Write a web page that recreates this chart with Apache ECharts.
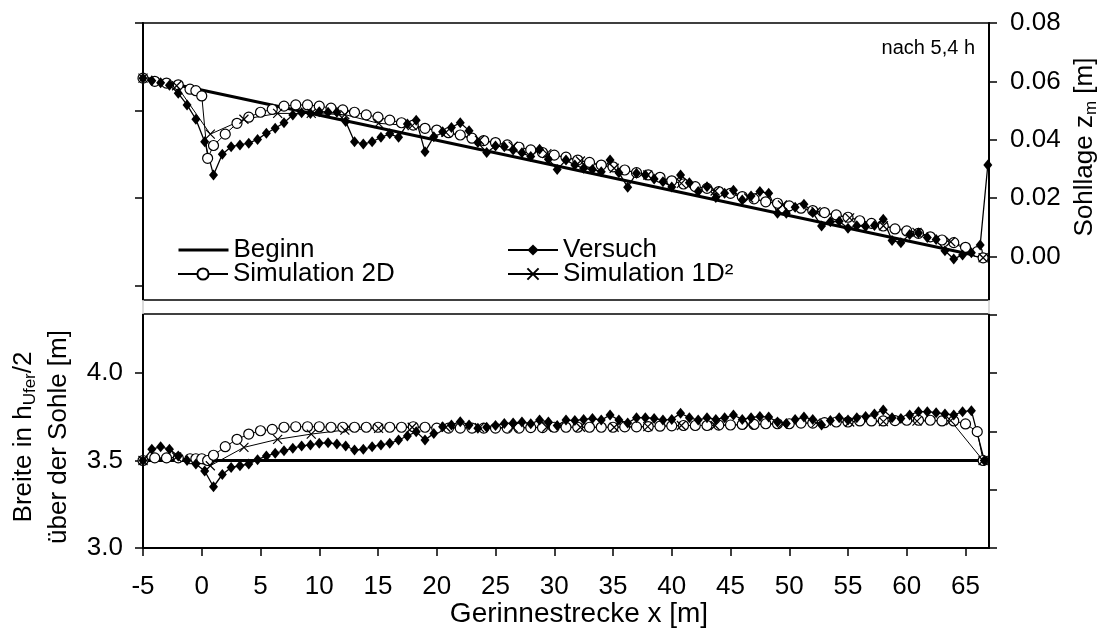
<!DOCTYPE html>
<html>
<head>
<meta charset="utf-8">
<script src="https://cdn.jsdelivr.net/npm/echarts@6/dist/echarts.min.js"></script>
<style>
  html, body { margin: 0; padding: 0; background: #fff; }
  #chart { width: 1102px; height: 639px; }
</style>
</head>
<body>
<div id="chart"></div>
<script>
// ---- Sohllage (bed level z_m, right axis) and Breite (width, left axis) along the flume ----

// Initial state
const xBeginnTop = [-5, 66.5];
const zBeginn    = [0.0613, -0.0002];
const xBeginnBot = [-5, 66.6];
const bBeginn    = [3.5, 3.5];

// Measurement (Versuch), bed level
const xVersuchTop = [-5, -4.25, -3.5, -2.75, -2, -1.25, -0.5, 0.25, 1, 1.75, 2.5, 3.25, 4, 4.75, 5.5, 6.25,
  7, 7.75, 8.5, 9.25, 10, 10.75, 11.5, 12.25, 13, 13.75, 14.5, 15.25, 16, 16.75, 17.5, 18.25, 19, 19.75,
  20.5, 21.25, 22, 22.75, 23.5, 24.25, 25, 25.75, 26.5, 27.25, 28, 28.75, 29.5, 30.25, 31, 31.75, 32.5,
  33.25, 34, 34.75, 35.5, 36.25, 37, 37.75, 38.5, 39.25, 40, 40.75, 41.5, 42.25, 43, 43.75, 44.5, 45.25,
  46, 46.75, 47.5, 48.25, 49, 49.75, 50.5, 51.25, 52, 52.75, 53.5, 54.25, 55, 55.75, 56.5, 57.25, 58,
  58.75, 59.5, 60.25, 61, 61.75, 62.5, 63.25, 64, 64.75, 65.5, 66.25, 66.9];
const zVersuch = [0.0611, 0.0602, 0.0595, 0.0587, 0.0559, 0.0519, 0.0470, 0.0393, 0.0279, 0.0350, 0.0376,
  0.0382, 0.0388, 0.0401, 0.0422, 0.0439, 0.0458, 0.0485, 0.0492, 0.0490, 0.0496, 0.0494, 0.0494, 0.0462,
  0.0393, 0.0385, 0.0393, 0.0408, 0.0420, 0.0408, 0.0454, 0.0467, 0.0359, 0.0410, 0.0427, 0.0442, 0.0458,
  0.0431, 0.0390, 0.0356, 0.0378, 0.0376, 0.0365, 0.0355, 0.0342, 0.0367, 0.0333, 0.0298, 0.0330, 0.0313,
  0.0302, 0.0298, 0.0290, 0.0330, 0.0287, 0.0237, 0.0285, 0.0279, 0.0265, 0.0256, 0.0238, 0.0279, 0.0252,
  0.0222, 0.0239, 0.0202, 0.0216, 0.0227, 0.0193, 0.0207, 0.0222, 0.0216, 0.0148, 0.0148, 0.0168, 0.0179,
  0.0150, 0.0104, 0.0119, 0.0120, 0.0096, 0.0105, 0.0102, 0.0106, 0.0127, 0.0054, 0.0047, 0.0075, 0.0080,
  0.0065, 0.0058, 0.0019, -0.0009, 0.0005, 0.0012, 0.0039, 0.0313];

// Measurement (Versuch), width
const xVersuchBot = [-5, -4.25, -3.5, -2.75, -2, -1.25, -0.5, 0.25, 1, 1.75, 2.5, 3.25, 4, 4.75, 5.5, 6.25,
  7, 7.75, 8.5, 9.25, 10, 10.75, 11.5, 12.25, 13, 13.75, 14.5, 15.25, 16, 16.75, 17.5, 18.25, 19, 19.75,
  20.5, 21.25, 22, 22.75, 23.5, 24.25, 25, 25.75, 26.5, 27.25, 28, 28.75, 29.5, 30.25, 31, 31.75, 32.5,
  33.25, 34, 34.75, 35.5, 36.25, 37, 37.75, 38.5, 39.25, 40, 40.75, 41.5, 42.25, 43, 43.75, 44.5, 45.25,
  46, 46.75, 47.5, 48.25, 49, 49.75, 50.5, 51.25, 52, 52.75, 53.5, 54.25, 55, 55.75, 56.5, 57.25, 58,
  58.75, 59.5, 60.25, 61, 61.75, 62.5, 63.25, 64, 64.75, 65.5, 66.6];
const bVersuch = [3.50, 3.564, 3.579, 3.564, 3.526, 3.50, 3.48, 3.44, 3.35, 3.42, 3.46, 3.47, 3.48, 3.505,
  3.526, 3.541, 3.556, 3.570, 3.583, 3.589, 3.598, 3.602, 3.594, 3.583, 3.560, 3.564, 3.579, 3.589, 3.598,
  3.617, 3.640, 3.665, 3.617, 3.655, 3.693, 3.703, 3.722, 3.703, 3.684, 3.690, 3.700, 3.712, 3.714, 3.720,
  3.710, 3.731, 3.720, 3.700, 3.731, 3.728, 3.735, 3.740, 3.731, 3.760, 3.731, 3.714, 3.745, 3.745, 3.740,
  3.731, 3.735, 3.770, 3.745, 3.731, 3.745, 3.735, 3.745, 3.760, 3.735, 3.745, 3.752, 3.748, 3.720, 3.712,
  3.735, 3.748, 3.735, 3.703, 3.728, 3.745, 3.731, 3.745, 3.752, 3.766, 3.789, 3.745, 3.740, 3.760, 3.779,
  3.779, 3.773, 3.766, 3.760, 3.779, 3.785, 3.50];

// Simulation 2D
const x2D = [-5, -4, -3, -2, -1, -0.5, 0, 0.5, 1, 2, 3, 4, 5, 6, 7, 8, 9, 10, 11, 12, 13, 14, 15, 16, 17,
  18, 19, 20, 21, 22, 23, 24, 25, 26, 27, 28, 29, 30, 31, 32, 33, 34, 35, 36, 37, 38, 39, 40, 41, 42, 43,
  44, 45, 46, 47, 48, 49, 50, 51, 52, 53, 54, 55, 56, 57, 58, 59, 60, 61, 62, 63, 64, 65, 66, 66.5];
const z2D = [0.0611, 0.0600, 0.0594, 0.0588, 0.0573, 0.0568, 0.0550, 0.0336, 0.0380,
  0.0419, 0.0456, 0.0477, 0.0494, 0.0504, 0.0515, 0.0519, 0.0519, 0.0515,
  0.0508, 0.0502, 0.0494, 0.0485, 0.0477, 0.0467, 0.0458, 0.0450, 0.0439, 0.0433,
  0.0424, 0.0416, 0.0405, 0.0397, 0.0390, 0.0382, 0.0374, 0.0365, 0.0356, 0.0347,
  0.0340, 0.0330, 0.0322, 0.0313, 0.0307, 0.0296, 0.0287, 0.0279, 0.0271, 0.0259,
  0.0248, 0.0239, 0.0233, 0.0222, 0.0216, 0.0205, 0.0197, 0.0187, 0.0182, 0.0173,
  0.0165, 0.0157, 0.0150, 0.0142, 0.0134, 0.0122, 0.0113, 0.0104, 0.0094, 0.0087,
  0.0079, 0.0067, 0.0056, 0.0047, 0.0031, 0.0016, -0.0005];
const b2D = [3.50, 3.515, 3.515, 3.515, 3.51, 3.51, 3.51, 3.50, 3.53,
  3.579, 3.621, 3.651, 3.670, 3.678, 3.690, 3.693, 3.693, 3.693,
  3.690, 3.690, 3.690, 3.690, 3.690, 3.690, 3.690, 3.693, 3.690, 3.685,
  3.685, 3.685, 3.685, 3.685, 3.685, 3.685, 3.685, 3.688, 3.688, 3.690,
  3.690, 3.690, 3.690, 3.690, 3.690, 3.692, 3.692, 3.694, 3.696, 3.698,
  3.700, 3.700, 3.700, 3.702, 3.703, 3.706, 3.706, 3.710, 3.710, 3.710,
  3.714, 3.714, 3.716, 3.720, 3.720, 3.726, 3.726, 3.726, 3.728, 3.730,
  3.730, 3.730, 3.726, 3.726, 3.709, 3.665, 3.50];

// Simulation 1D²
const x1D = [-5, -2.14, 0.73, 3.59, 6.46, 9.32, 12.18, 15.05, 17.91, 20.78, 23.64, 26.5, 29.37, 32.23,
  35.1, 37.96, 40.82, 43.69, 46.55, 49.42, 52.28, 55.14, 58.01, 60.87, 63.74, 66.5];
const z1D = [0.0611, 0.0585, 0.0419, 0.0470, 0.0490, 0.0490, 0.0486, 0.0456, 0.0448, 0.0425, 0.0398,
  0.0378, 0.0352, 0.0327, 0.0302, 0.0279, 0.0250, 0.0224, 0.0200, 0.0176, 0.0153, 0.0132, 0.0105,
  0.0082, 0.0050, -0.0005];
const b1D = [3.50, 3.52, 3.47, 3.575, 3.621, 3.651, 3.674, 3.684, 3.690, 3.690, 3.688, 3.688, 3.690,
  3.690, 3.690, 3.694, 3.700, 3.700, 3.705, 3.710, 3.715, 3.720, 3.722, 3.725, 3.728, 3.50];

const FONT = '"Liberation Sans", Arial, sans-serif';
const FS = 26;
const zip = (xs, ys) => xs.map((x, i) => [x, ys[i]]);

const styles = {
  'Beginn': { symbol: 'none', lineStyle: { color: '#000', width: 3 } },
  'Versuch': { symbol: 'diamond', symbolSize: [9, 11], itemStyle: { color: '#000' },
               lineStyle: { color: '#000', width: 1.3 } },
  'Simulation 2D': { symbol: 'circle', symbolSize: 10,
               itemStyle: { color: '#fff', borderColor: '#000', borderWidth: 1.2 },
               lineStyle: { color: '#000', width: 1 } },
  'Simulation 1D²': { symbol: 'path://M0,0L10,10M10,0L0,10', symbolSize: 9,
               itemStyle: { color: 'none', borderColor: '#000', borderWidth: 1.2 },
               lineStyle: { color: '#000', width: 1 } }
};

function line(name, xs, ys, yAxisIndex) {
  return Object.assign({
    type: 'line', name, yAxisIndex, data: zip(xs, ys),
    showSymbol: true, showAllSymbol: true, animation: false, silent: true,
    emphasis: { disabled: true }
  }, styles[name]);
}

const axisCommon = {
  axisLine: { show: true, onZero: false, lineStyle: { color: '#000', width: 2 } },
  axisTick: { show: true, length: 8, lineStyle: { color: '#000', width: 1.5 } },
  splitLine: { show: false },
  axisLabel: { color: '#000', fontSize: FS, fontFamily: FONT }
};

// one legend block per entry, laid out as two columns of two rows
function legendItem(item, left, centerY) {
  return {
    data: [item], orient: 'vertical', left, top: centerY - FS / 2,
    itemWidth: 50, itemHeight: 14, selectedMode: false, padding: 0,
    textStyle: { color: '#000', fontSize: FS, fontFamily: FONT }
  };
}

const option = {
  backgroundColor: '#fff',
  animation: false,
  grid: { left: 143, top: 23, width: 846, height: 525, show: true,
          borderColor: '#000', borderWidth: 1.5, backgroundColor: 'transparent' },
  xAxis: Object.assign({}, axisCommon, {
    type: 'value', min: -5, max: 67, interval: 5,
    axisLabel: Object.assign({}, axisCommon.axisLabel, { margin: 26, showMaxLabel: false })
  }),
  yAxis: [
    Object.assign({}, axisCommon, {
      type: 'value', position: 'left', min: 3, max: 6, interval: 0.5,
      axisLabel: Object.assign({}, axisCommon.axisLabel, {
        margin: 20, formatter: v => (v <= 4.0001 ? v.toFixed(1) : '')
      })
    }),
    Object.assign({}, axisCommon, {
      type: 'value', position: 'right', min: -0.1, max: 0.08, interval: 0.02,
      axisLabel: Object.assign({}, axisCommon.axisLabel, {
        margin: 21, formatter: v => (v > -0.0001 ? Math.abs(v).toFixed(2) : '')
      })
    })
  ],
  legend: [
    legendItem({ name: 'Beginn', itemStyle: { color: 'rgba(0,0,0,0)', borderWidth: 0 },
                 lineStyle: { color: '#000', width: 3 } }, 177, 250),
    legendItem('Simulation 2D', 177, 274),
    legendItem('Versuch', 507, 250),
    legendItem('Simulation 1D²', 507, 274)
  ],
  series: [
    line('Beginn', xBeginnTop, zBeginn, 1),
    line('Simulation 2D', x2D, z2D, 1),
    line('Simulation 1D²', x1D, z1D, 1),
    line('Versuch', xVersuchTop, zVersuch, 1),
    line('Beginn', xBeginnBot, bBeginn, 0),
    line('Simulation 2D', x2D, b2D, 0),
    line('Simulation 1D²', x1D, b1D, 0),
    line('Versuch', xVersuchBot, bVersuch, 0)
  ],
  graphic: [
    // separating band between the two panels
    { type: 'rect', z: 100, shape: { x: 141, y: 300.5, width: 850, height: 13 }, style: { fill: '#fff' } },
    { type: 'line', z: 101, shape: { x1: 143, y1: 300, x2: 989, y2: 300 }, style: { stroke: '#000', lineWidth: 1.5 } },
    { type: 'line', z: 101, shape: { x1: 143, y1: 314, x2: 989, y2: 314 }, style: { stroke: '#000', lineWidth: 1.5 } },
    { type: 'line', z: 101, shape: { x1: 143, y1: 300, x2: 143, y2: 314 }, style: { stroke: '#cfcfcf', lineWidth: 1.5 } },
    { type: 'line', z: 101, shape: { x1: 989, y1: 300, x2: 989, y2: 314 }, style: { stroke: '#cfcfcf', lineWidth: 1.5 } },
    // axis titles and annotation
    { type: 'text', z: 102, x: 579, y: 614,
      style: { text: 'Gerinnestrecke x [m]', fontSize: 28, fontFamily: FONT, fill: '#000',
        align: 'center', verticalAlign: 'middle' } },
    { type: 'text', z: 102, x: 975, y: 48,
      style: { text: 'nach 5,4 h', fontSize: 20, fontFamily: FONT, fill: '#000', align: 'right', verticalAlign: 'middle' } },
    { type: 'text', z: 102, x: 1085, y: 147, rotation: Math.PI / 2,
      style: { text: '{n|Sohllage z}{s|m}{n| [m]}', align: 'center', verticalAlign: 'middle',
        rich: { n: { fontSize: FS, fontFamily: FONT, fill: '#000' },
                s: { fontSize: 17, fontFamily: FONT, fill: '#000', padding: [13, 0, 0, 0] } } } },
    { type: 'text', z: 102, x: 24, y: 437, rotation: Math.PI / 2,
      style: { text: '{n|Breite in h}{s|Ufer}{n|/2}', align: 'center', verticalAlign: 'middle',
        rich: { n: { fontSize: FS, fontFamily: FONT, fill: '#000' },
                s: { fontSize: 17, fontFamily: FONT, fill: '#000', padding: [13, 0, 0, 0] } } } },
    { type: 'text', z: 102, x: 59, y: 437, rotation: Math.PI / 2,
      style: { text: 'über der Sohle [m]', fontSize: FS, fontFamily: FONT, fill: '#000',
        align: 'center', verticalAlign: 'middle' } }
  ]
};

const chart = echarts.init(document.getElementById('chart'), null, { renderer: 'canvas' });
chart.setOption(option);
</script>
</body>
</html>
